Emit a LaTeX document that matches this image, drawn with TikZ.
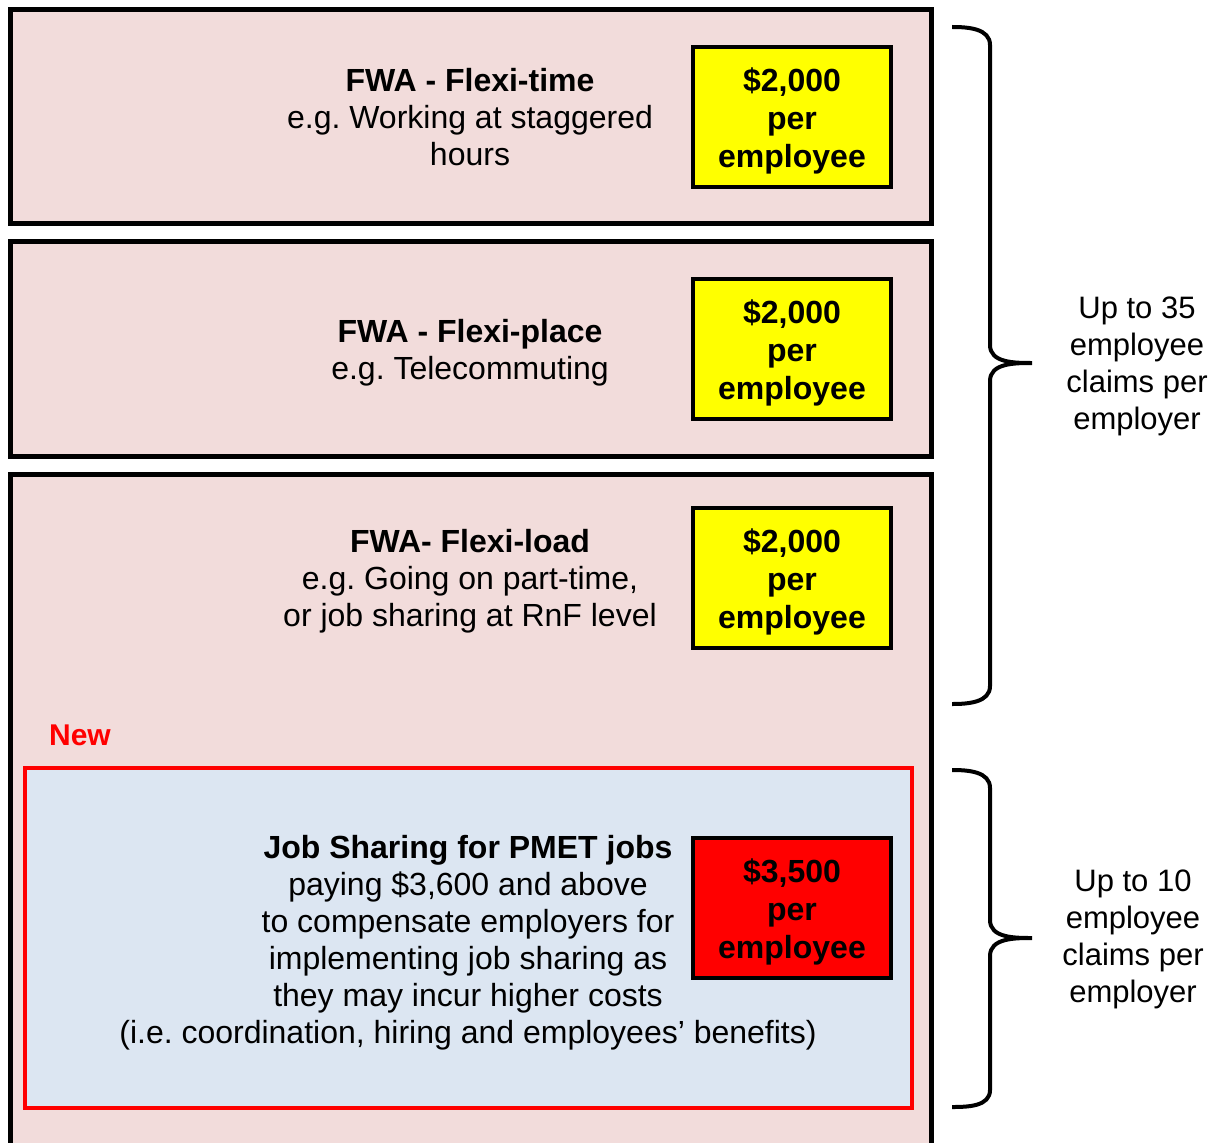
\documentclass[tikz,border=0pt]{standalone}
\usepackage{fontspec}
\setmainfont{Liberation Sans}
\frenchspacing
\definecolor{panelpink}{HTML}{F2DCDB}
\definecolor{jobblue}{HTML}{DCE6F2}
\definecolor{cashyellow}{HTML}{FFFF00}
\definecolor{cashred}{HTML}{FF0000}
\begin{document}
\begin{tikzpicture}[x=1pt, y=-1pt,
        panel/.style={draw=black, line width=5pt, fill=panelpink},
        cash/.style={draw=black, line width=4pt, minimum width=198pt, minimum height=140pt, inner sep=0pt},
        cashtext/.style={align=center, font=\fontsize{32}{38}\selectfont\bfseries, inner sep=0pt, yshift=-4pt},
        desc/.style={align=center, font=\fontsize{32}{37}\selectfont, inner sep=0pt},
        claims/.style={align=center, font=\fontsize{31}{37}\selectfont, inner sep=0pt},
        curly/.style={draw=black, line width=4pt}]
    \useasboundingbox (0,0) rectangle (1222,1142);
    \clip (0,0) rectangle (1222,1142);

    \draw[panel] (10,10) rectangle (931,223);
    \draw[panel] (10,241) rectangle (931,456);
    \draw[panel] (10,474) rectangle (931,1170);

    \draw[draw=cashred, line width=4pt, fill=jobblue] (25,768) rectangle (912,1108);

    \node[desc] (flexitime) at (470,117) {\textbf{FWA - Flexi-time}\\e.g. Working at staggered\\hours};
    \node[desc] (flexiplace) at (470,353) {\textbf{FWA - Flexi-place}\\e.g. Telecommuting};
    \node[desc] (flexiload) at (470,581) {\textbf{FWA- Flexi-load}\\e.g. Going on part-time,\\or job sharing at RnF level};
    \node[desc] (jobshare) at (468,943) {\textbf{Job Sharing for PMET jobs}\\paying \$3,600 and above\\to compensate employers for\\implementing job sharing as\\they may incur higher costs\\(i.e. coordination, hiring and employees’ benefits)};

    \node[cash, fill=cashyellow, label={[cashtext]center:\$2,000\\per\\employee}] (cashtime) at (792,117) {};
    \node[cash, fill=cashyellow, label={[cashtext]center:\$2,000\\per\\employee}] (cashplace) at (792,349) {};
    \node[cash, fill=cashyellow, label={[cashtext]center:\$2,000\\per\\employee}] (cashload) at (792,578) {};
    \node[cash, fill=cashred, label={[cashtext]center:\$3,500\\per\\employee}] (cashjob) at (792,908) {};

    \node[font=\fontsize{30}{36}\selectfont\bfseries, text=cashred, inner sep=0pt] (newtag) at (80,735) {New};

    % braces
    \draw[curly] (952,27) to[out=0, in=90] (990,45) -- (990,345) to[out=-90, in=180] (1032,363)
        to[out=180, in=90] (990,381) -- (990,686) to[out=-90, in=0] (952,704);
    \draw[curly] (952,770) to[out=0, in=90] (990,788) -- (990,920) to[out=-90, in=180] (1032,938)
        to[out=180, in=90] (990,956) -- (990,1090) to[out=-90, in=0] (952,1107);

    \node[claims] (claims35) at (1137,366) {Up to 35\\employee\\claims per\\employer};
    \node[claims] (claims10) at (1133,939) {Up to 10\\employee\\claims per\\employer};
\end{tikzpicture}
\end{document}
